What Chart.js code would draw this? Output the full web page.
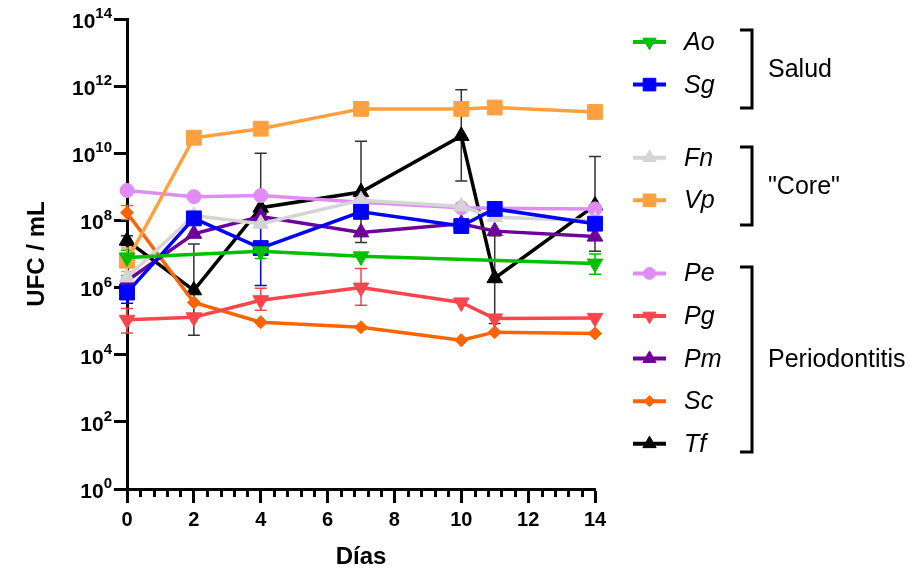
<!DOCTYPE html>
<html>
<head>
<meta charset="utf-8">
<script src="https://cdn.jsdelivr.net/npm/chart.js@4.4.1/dist/chart.umd.min.js"></script>
<style>
  html, body { margin: 0; padding: 0; background: #fff; }
  #wrap { width: 909px; height: 572px; }
</style>
</head>
<body>
<div id="wrap"><canvas id="chart" width="909" height="572"></canvas></div>
<script>
// Días de muestreo y exponentes de las marcas del eje Y
const days = [0, 2, 4, 7, 10, 11, 14];
const yTickExps = [0, 2, 4, 6, 8, 10, 12, 14];
const minorStep = 0.4;

const seriesNames = ['Ao', 'Sg', 'Fn', 'Vp', 'Pe', 'Pg', 'Pm', 'Sc', 'Tf'];
const groupNames = ['Salud', '"Core"', 'Periodontitis'];
const groupOf = [0, 0, 1, 1, 2, 2, 2, 2, 2];

// UFC / mL por día (null = sin punto)
const ao = [7.9e6, null, 1.2e7, 8.5e6, null, null, 5.2e6];
const sg = [7.1e5, 1.15e8, 1.5e7, 1.8e8, 6.8e7, 2.2e8, 8.0e7];
const fn = [2.0e6, 1.4e8, 8.0e7, 4.0e8, 2.6e8, 1.25e8, 1.0e8];
const vp = [6.3e6, 2.9e10, 5.4e10, 2.1e11, 2.1e11, 2.3e11, 1.7e11];
const pe = [7.8e8, 5.1e8, 5.5e8, 3.5e8, 2.4e8, 2.3e8, 2.2e8];
const pg = [1.1e5, 1.3e5, 4.2e5, 1.0e6, 3.6e5, 1.2e5, 1.25e5];
const pm = [1.6e6, 4.0e7, 1.3e8, 4.4e7, 8.0e7, 4.8e7, 3.3e7];
const sc = [1.7e8, 3.6e5, 9.3e4, 6.6e4, 2.7e4, 4.7e4, 4.3e4];
const tf = [2.5e7, 8.3e5, 2.4e8, 7.0e8, 3.3e10, 1.9e6, 2.8e8];

// barras de error [inferior, superior]
const aoErr = [[2.3e6, 1.3e7], null, [7.4e6, 1.7e7], null, null, null, [2.5e6, 1.0e7]];
const sgErr = [[3.4e5, 1.9e6], null, [1.15e6, 1.6e8], null, null, null, null];
const vpErr = [[3.0e6, 1.5e7], null, null, null, null, null, null];
const pgErr = [[4.4e4, 2.4e5], null, [2.1e5, 9.5e5], [3.0e5, 3.7e6], null, null, null];
const scErr = [[1.07e8, 2.8e8], null, null, null, null, null, null];
const tfErr = [[1.8e7, 3.5e7], [3.8e4, 2.0e7], [1.5e8, 1.0e10], [2.2e7, 2.3e10], [1.5e9, 7.8e11], [8.5e4, 3.5e7], [1.2e7, 8.0e9]];

const seriesValues = [ao, sg, fn, vp, pe, pg, pm, sc, tf];
const seriesErrors = [aoErr, sgErr, null, vpErr, null, pgErr, null, scErr, tfErr];
const colors = ['#00c000', '#0000ff', '#d4d4d4', '#ffa040', '#e08cf4', '#f8464c', '#6c0098', '#ff6400', '#000000'];
const styles = [
  { pointStyle: 'triangle', rotation: 180, radius: 9 },
  { pointStyle: 'rect', rotation: 0, radius: 10.5 },
  { pointStyle: 'triangle', rotation: 0, radius: 9 },
  { pointStyle: 'rect', rotation: 0, radius: 10.5 },
  { pointStyle: 'circle', rotation: 0, radius: 7 },
  { pointStyle: 'triangle', rotation: 180, radius: 9 },
  { pointStyle: 'triangle', rotation: 0, radius: 9 },
  { pointStyle: 'rectRot', rotation: 0, radius: 6.5 },
  { pointStyle: 'triangle', rotation: 0, radius: 9 }
];

const FONT = "'Liberation Sans', Arial, sans-serif";
Chart.defaults.font.family = FONT;
Chart.defaults.color = '#000';

const datasets = seriesNames.map((name, i) => ({
  label: name,
  data: seriesValues[i].map((v, j) => ({ x: days[j], y: v })),
  errors: seriesErrors[i],
  borderColor: colors[i],
  backgroundColor: colors[i],
  pointBackgroundColor: colors[i],
  pointBorderColor: colors[i],
  pointBorderWidth: 1,
  borderWidth: 3.5,
  pointStyle: styles[i].pointStyle,
  pointRotation: styles[i].rotation,
  pointRadius: styles[i].radius,
  pointHoverRadius: styles[i].radius,
  tension: 0,
  spanGaps: true,
  clip: false
}));

const errorBars = {
  id: 'errorBars',
  beforeDatasetsDraw(chart) {
    const { ctx, scales: { x, y } } = chart;
    ctx.save();
    chart.data.datasets.forEach((ds, i) => {
      if (!ds.errors) return;
      ctx.strokeStyle = i === 8 ? '#333' : ds.borderColor;
      ctx.lineWidth = 1.5;
      ds.errors.forEach((e, j) => {
        if (!e) return;
        const px = x.getPixelForValue(days[j]);
        const lo = y.getPixelForValue(e[0]);
        const hi = y.getPixelForValue(e[1]);
        ctx.beginPath();
        ctx.moveTo(px, lo); ctx.lineTo(px, hi);
        ctx.moveTo(px - 6, lo); ctx.lineTo(px + 6, lo);
        ctx.moveTo(px - 6, hi); ctx.lineTo(px + 6, hi);
        ctx.stroke();
      });
    });
    ctx.restore();
  }
};

const axisExtras = {
  id: 'axisExtras',
  afterDraw(chart) {
    const { ctx, chartArea, scales: { x, y } } = chart;
    ctx.save();
    // marcas menores del eje X
    ctx.strokeStyle = '#000';
    ctx.lineWidth = 3;
    for (let v = minorStep; v < 14; v += minorStep) {
      if (Math.abs(v / 2 - Math.round(v / 2)) < 1e-6) continue;
      const px = Math.round(x.getPixelForValue(v)) + 0.5;
      ctx.beginPath();
      ctx.moveTo(px, chartArea.bottom);
      ctx.lineTo(px, chartArea.bottom + 8);
      ctx.stroke();
    }
    // etiquetas 10^n del eje Y
    ctx.fillStyle = '#000';
    ctx.textBaseline = 'middle';
    ctx.textAlign = 'left';
    yTickExps.forEach(e => {
      const py = y.getPixelForValue(Math.pow(10, e));
      const sup = String(e);
      ctx.font = 'bold 15px ' + FONT;
      const supW = ctx.measureText(sup).width;
      ctx.font = 'bold 21px ' + FONT;
      const baseW = ctx.measureText('10').width;
      const right = 112;
      ctx.fillText('10', right - supW - baseW, py + 3);
      ctx.font = 'bold 15px ' + FONT;
      ctx.fillText(sup, right - supW, py - 5);
    });
    ctx.restore();
  }
};

const sideLegend = {
  id: 'sideLegend',
  afterDraw(chart) {
    const ctx = chart.ctx;
    const rowY = i => 42 + i * 42.6 + groupOf[i] * 30.5;
    const brackets = [[30, 108], [147, 225], [267, 452]];
    ctx.save();
    chart.data.datasets.forEach((ds, i) => {
      const cy = rowY(i);
      ctx.strokeStyle = ds.borderColor;
      ctx.fillStyle = ds.borderColor;
      ctx.lineWidth = 4;
      ctx.beginPath();
      ctx.moveTo(633, cy); ctx.lineTo(666, cy);
      ctx.stroke();
      ctx.lineWidth = 1;
      Chart.helpers.drawPoint(ctx, {
        pointStyle: ds.pointStyle, rotation: ds.pointRotation,
        radius: ds.pointRadius * 0.85, borderWidth: 1
      }, 649.5, cy);
      ctx.fillStyle = '#000';
      ctx.font = 'italic 25px ' + FONT;
      ctx.textBaseline = 'middle';
      ctx.textAlign = 'left';
      ctx.fillText(ds.label, 684, cy + 1);
    });
    // corchetes de grupos
    ctx.strokeStyle = '#000';
    ctx.lineWidth = 3;
    ctx.font = '25px ' + FONT;
    groupNames.forEach((g, k) => {
      const [top, bot] = brackets[k];
      ctx.beginPath();
      ctx.moveTo(740, top); ctx.lineTo(752, top);
      ctx.lineTo(752, bot); ctx.lineTo(740, bot);
      ctx.stroke();
      ctx.fillText(g, 768, (top + bot) / 2 + 1);
    });
    ctx.restore();
  }
};

new Chart(document.getElementById('chart'), {
  type: 'line',
  data: { datasets },
  options: {
    responsive: false,
    animation: false,
    devicePixelRatio: 1,
    layout: { padding: { top: 19, right: 314, left: 0, bottom: 0 } },
    plugins: { legend: { display: false }, tooltip: { enabled: false } },
    scales: {
      x: {
        type: 'linear', min: 0, max: 14,
        ticks: { stepSize: 2, color: '#000', font: { size: 20, weight: 'bold' }, padding: 5, maxRotation: 0 },
        grid: { display: true, drawOnChartArea: false, drawTicks: true, tickLength: 14, tickWidth: 3, tickColor: '#000' },
        border: { display: true, width: 3, color: '#000' },
        title: { display: true, text: 'Días', color: '#000', font: { size: 24, weight: 'bold' }, padding: { top: 0, bottom: 0 } },
        afterFit(s) { s.height = 83; }
      },
      y: {
        type: 'logarithmic', min: 1, max: 1e14,
        afterBuildTicks(s) { s.ticks = yTickExps.map(e => ({ value: Math.pow(10, e) })); },
        ticks: { display: false },
        grid: { display: true, drawOnChartArea: false, drawTicks: true, tickLength: 13, tickWidth: 3, tickColor: '#000' },
        border: { display: true, width: 3, color: '#000' },
        title: { display: true, text: 'UFC / mL', color: '#000', font: { size: 24, weight: 'bold' }, padding: { top: 23, bottom: 0 } },
        afterFit(s) { s.width = 127; }
      }
    }
  },
  plugins: [errorBars, axisExtras, sideLegend]
});
</script>
</body>
</html>
